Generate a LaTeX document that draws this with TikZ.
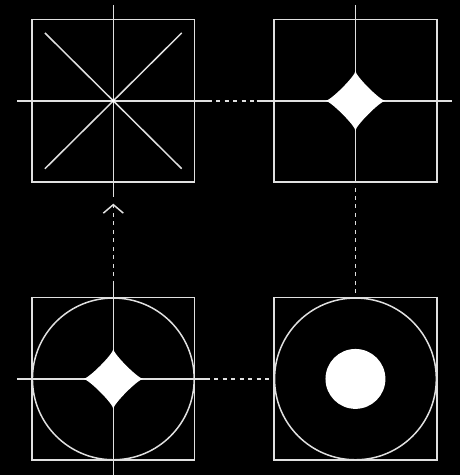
\documentclass[tikz,border=0pt]{standalone}
\usetikzlibrary{arrows.meta}
\definecolor{lineclr}{gray}{0.88}
\tikzset{
	panel/.style={draw=lineclr, line width=1.6pt, minimum size=163pt, inner sep=0pt},
	axis/.style={lineclr, line width=1.5pt},
	link/.style={lineclr, line width=1.5pt, dash pattern=on 4pt off 4.5pt, dash phase=4pt},
	cusp/.pic={\fill[white] (0,-30) .. controls (0,-25) and (25,0) .. (30,0)
		.. controls (25,0) and (0,25) .. (0,30)
		.. controls (0,25) and (-25,0) .. (-30,0)
		.. controls (-25,0) and (0,-25) .. cycle;}
}
\begin{document}
\begin{tikzpicture}[x=1pt,y=-1pt,>={Straight Barb[length=8.5pt,width=20pt,line width=1.5pt]}]
		\fill[black] (0,0) rectangle (461,476);
		% four panels
		\node[panel] (tl) at (113.5,101) {};
		\node[panel] (tr) at (356,101) {};
		\node[panel] (bl) at (113.5,379.5) {};
		\node[panel] (br) at (356,379.5) {};
		% axis ends
		\coordinate (tlN) at (113.5,5);
		\coordinate (tlS) at (113.5,197);
		\coordinate (tlW) at (17,101);
		\coordinate (tlE) at (212,101);
		\coordinate (trN) at (356,5);
		\coordinate (trW) at (257,101);
		\coordinate (trE) at (453,101);
		\coordinate (blN) at (113.5,281);
		\coordinate (blS) at (113.5,476);
		\coordinate (blW) at (17,379.5);
		\coordinate (blE) at (210,379.5);
		\coordinate (tip) at (113.5,204);
		% top left: cross and diagonals
		\draw[axis] (tlN) -- (tlS);
		\draw[axis] (tlW) -- (tlE);
		\draw[axis] (45,33) -- (182,169);
		\draw[axis] (182,33) -- (45,169);
		\fill[white] (tl.center) circle (1.8pt);
		% top right
		\draw[axis] (trN) -- (tr.south);
		\draw[axis] (trW) -- (trE);
		\pic at (tr.center) {cusp};
		% bottom left
		\draw[axis] (blN) -- (blS);
		\draw[axis] (blW) -- (blE);
		\draw[axis] (bl.center) circle (81pt);
		\pic at (bl.center) {cusp};
		% bottom right
		\draw[axis] (br.center) circle (81pt);
		\fill[white] (br.center) circle (30pt);
		% dashed links
		\draw[link] (tlE) -- (trW);
		\draw[link] (tr.south) -- (br.north);
		\draw[link] (blE) -- (br.west);
		\draw[link,->] (blN) -- (tip);
	\end{tikzpicture}
\end{document}
